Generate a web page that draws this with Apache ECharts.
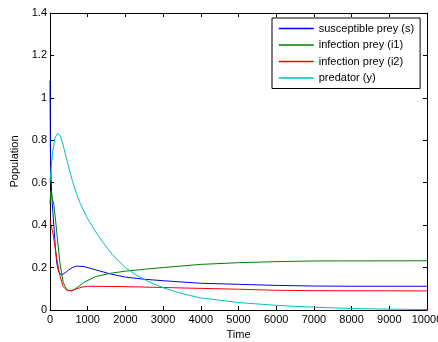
<!DOCTYPE html>
<html><head><meta charset="utf-8">
<script src="https://cdn.jsdelivr.net/npm/echarts@6/dist/echarts.min.js"></script>
<style>html,body{margin:0;padding:0;background:#fff}#c{width:438px;height:342px}</style>
</head><body><div id="c"></div>
<script>
const seriesNames = ['susceptible prey (s)', 'infection prey (i1)', 'infection prey (i2)', 'predator (y)'];
const xTicks = [0,1000,2000,3000,4000,5000,6000,7000,8000,9000,10000];
const yTicks = [0,0.2,0.4,0.6,0.8,1,1.2,1.4];
const susceptible = [[0,1.08],[10,0.75],[30,0.62],[50,0.53],[80,0.45],[110,0.38],[140,0.3],[180,0.22],[230,0.18],[300,0.165],[400,0.175],[500,0.19],[600,0.2],[700,0.207],[900,0.205],[1200,0.19],[1600,0.17],[2000,0.155],[2500,0.145],[3000,0.138],[4000,0.126],[5000,0.121],[6000,0.116],[7000,0.113],[8000,0.112],[10000,0.112]];
const infection1 = [[0,0.5],[20,0.56],[50,0.56],[100,0.5],[150,0.42],[200,0.33],[265,0.22],[350,0.13],[450,0.094],[550,0.09],[650,0.098],[750,0.11],[900,0.13],[1200,0.157],[1600,0.173],[2000,0.183],[2500,0.192],[3000,0.2],[4000,0.215],[5000,0.223],[6000,0.228],[7000,0.231],[10000,0.232]];
const infection2 = [[0,0.42],[30,0.4],[90,0.35],[180,0.24],[265,0.16],[350,0.11],[450,0.093],[575,0.09],[700,0.1],[850,0.108],[1000,0.112],[2000,0.11],[3000,0.106],[4000,0.102],[5000,0.098],[6000,0.093],[7000,0.091],[10000,0.09]];
const predator = [[0,0.6],[25,0.66],[75,0.75],[130,0.81],[200,0.833],[260,0.825],[330,0.79],[400,0.74],[500,0.67],[600,0.605],[700,0.55],[800,0.503],[1000,0.43],[1200,0.372],[1400,0.32],[1650,0.262],[2000,0.2],[2300,0.163],[2600,0.135],[3000,0.105],[3500,0.077],[4000,0.057],[5000,0.035],[6000,0.022],[7000,0.013],[8000,0.007],[9000,0.004],[10000,0.002]];
const colors = ['#0000ff','#008000','#ff0000','#00bfbf'];
const allData = [susceptible, infection1, infection2, predator];

const font = 'Liberation Sans, Arial, sans-serif';
const chart = echarts.init(document.getElementById('c'), null, {renderer:'canvas'});
const axLine = {show:true, onZero:false, lineStyle:{color:'#000', width:1}};
const tick = {show:true, inside:true, length:4, lineStyle:{color:'#000'}};
chart.setOption({
  animation:false,
  grid:{left:50, right:11, top:13, bottom:32, containLabel:false, outerBoundsMode:'none'},
  legend:{
    orient:'vertical', left:272, top:18, data:seriesNames,
    borderColor:'#000', borderWidth:1, backgroundColor:'#fff',
    padding:[4,6,4,6], itemGap:3.5, itemWidth:35, itemHeight:13, itemTextGap:5,
    itemStyle:{opacity:0},
    lineStyle:{width:1.5},
    textStyle:{fontFamily:font, fontSize:11, color:'#000', lineHeight:13}
  },
  xAxis:[
    {type:'value', min:xTicks[0], max:xTicks[xTicks.length-1], interval:1000, position:'bottom',
     name:'Time', nameLocation:'middle', nameGap:18, nameTextStyle:{fontFamily:font, fontSize:11, color:'#000'},
     axisLine:axLine, axisTick:tick, splitLine:{show:false},
     axisLabel:{fontFamily:font, fontSize:11, color:'#000', margin:4, formatter:v=>String(v)}},
    {type:'value', min:0, max:10000, interval:1000, position:'top',
     axisLine:axLine, axisTick:tick, axisLabel:{show:false}, splitLine:{show:false}}
  ],
  yAxis:[
    {type:'value', min:yTicks[0], max:yTicks[yTicks.length-1], interval:0.2, position:'left',
     name:'Population', nameLocation:'middle', nameGap:21, nameTextStyle:{fontFamily:font, fontSize:11, color:'#000'},
     axisLine:axLine, axisTick:tick, splitLine:{show:false},
     axisLabel:{fontFamily:font, fontSize:11, color:'#000', margin:3}},
    {type:'value', min:0, max:1.4, interval:0.2, position:'right',
     axisLine:axLine, axisTick:tick, axisLabel:{show:false}, splitLine:{show:false}}
  ],
  series: seriesNames.map((n,i)=>({
    name:n, type:'line', data:allData[i], symbol:'none', smooth:false,
    lineStyle:{color:colors[i], width:1}, itemStyle:{color:colors[i]}, z:2+i
  }))
});
</script></body></html>
